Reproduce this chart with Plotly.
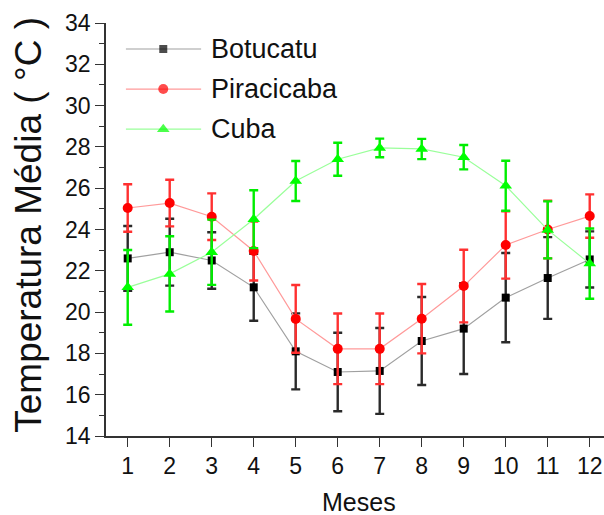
import plotly.graph_objects as go

months = list(range(1, 13))
tick_labels = [str(m) for m in months]

botucatu = [22.6, 22.9, 22.5, 21.2, 18.1, 17.1, 17.15, 18.6, 19.2, 20.7, 21.65, 22.55]
botucatu_err = [1.57, 1.62, 1.37, 1.62, 1.84, 1.9, 2.08, 2.13, 2.2, 2.16, 1.98, 1.36]

piracicaba = [25.04, 25.28, 24.62, 22.96, 19.67, 18.22, 18.22, 19.68, 21.26, 23.25, 24.0, 24.65]
piracicaba_err = [1.15, 1.13, 1.13, 1.43, 1.64, 1.71, 1.71, 1.68, 1.76, 1.63, 1.4, 1.05]

cuba = [21.2, 21.85, 22.9, 24.5, 26.35, 27.4, 27.95, 27.9, 27.5, 26.12, 23.98, 22.35]
cuba_err = [1.81, 1.82, 1.58, 1.4, 0.97, 0.8, 0.45, 0.49, 0.59, 1.21, 1.38, 1.7]

names = ["Botucatu", "Piracicaba", "Cuba"]
series = [botucatu, piracicaba, cuba]
errors = [botucatu_err, piracicaba_err, cuba_err]
marker_colors = ["#000000", "#FF0000", "#00FF00"]
line_colors = ["#a0a0a0", "#FF9A9A", "#9AFF9A"]
err_colors = ["#2a2a2a", "#FF3030", "#00EE00"]
symbols = ["square", "circle", "triangle-up"]
sizes = [8, 10, 11]

FONT = "Liberation Sans, Arial, sans-serif"

fig = go.Figure()
for name, y, e, mc, lc, ec, sym, sz in zip(names, series, errors, marker_colors,
                                           line_colors, err_colors, symbols, sizes):
    fig.add_trace(go.Scatter(
        x=months, y=y, name=name, mode="lines+markers",
        line=dict(color=lc, width=1.2),
        marker=dict(color=mc, symbol=sym, size=sz, line=dict(width=0)),
        error_y=dict(type="data", array=e, visible=True, color=ec,
                     thickness=2.4, width=4.5),
        showlegend=False,
    ))

# custom legend (long line samples as in the original), in plot-area fractions
leg_x0, leg_xm, leg_x1, leg_tx = 0.040, 0.115, 0.191, 0.207
leg_rows = [0.937, 0.840, 0.743]
for name, mc, lc, sym, sz, ry in zip(names, marker_colors, line_colors, symbols, sizes, leg_rows):
    fig.add_trace(go.Scatter(
        x=[leg_x0, leg_xm, leg_x1], y=[ry, ry, ry], xaxis="x2", yaxis="y2",
        mode="lines+markers", line=dict(color=lc, width=1.2),
        marker=dict(color=mc, symbol=sym, size=[0, sz, 0], line=dict(width=0)),
        showlegend=False, hoverinfo="skip",
    ))
    fig.add_annotation(x=leg_tx, y=ry, xref="x2", yref="y2", text=name,
                       showarrow=False, xanchor="left", yanchor="middle",
                       font=dict(family=FONT, size=27, color="#111111"))

# axis titles as annotations (exact placement)
fig.add_annotation(x=-0.155, y=0.511, xref="paper", yref="paper",
                   text="Temperatura Média ( °C )", textangle=-90, showarrow=False,
                   xanchor="center", yanchor="middle",
                   font=dict(family=FONT, size=37, color="#111111"))
fig.add_annotation(x=0.508, y=-0.160, xref="paper", yref="paper",
                   text="Meses", showarrow=False, xanchor="center", yanchor="middle",
                   font=dict(family=FONT, size=25, color="#111111"))

fig.update_layout(
    width=604, height=515,
    margin=dict(l=106, r=0, t=23, b=79, autoexpand=False),
    paper_bgcolor="white", plot_bgcolor="white",
    font=dict(family=FONT, color="#111111"),
    xaxis=dict(
        range=[0.483, 12.34], tickmode="array", tickvals=months, ticktext=tick_labels,
        showgrid=False, zeroline=False, showline=True, linecolor="#333333", linewidth=1.6,
        ticks="outside", ticklen=9, tickwidth=1.4, tickcolor="#333333", automargin=False,
        tickfont=dict(family=FONT, size=23, color="#111111"),
    ),
    yaxis=dict(
        range=[14, 34], dtick=2, showgrid=False, zeroline=False, showline=True,
        linecolor="#333333", linewidth=1.6, automargin=False,
        ticks="outside", ticklen=9, tickwidth=1.4, tickcolor="#333333",
        minor=dict(dtick=1, ticks="outside", ticklen=5, tickwidth=1.2, tickcolor="#333333"),
        tickfont=dict(family=FONT, size=23, color="#111111"),
    ),
    xaxis2=dict(overlaying="x", range=[0, 1], visible=False),
    yaxis2=dict(overlaying="y", range=[0, 1], visible=False),
)

fig.write_html("out.html", config={"displayModeBar": False},
               post_script="document.body.style.margin='0';document.body.style.overflow='hidden';")
